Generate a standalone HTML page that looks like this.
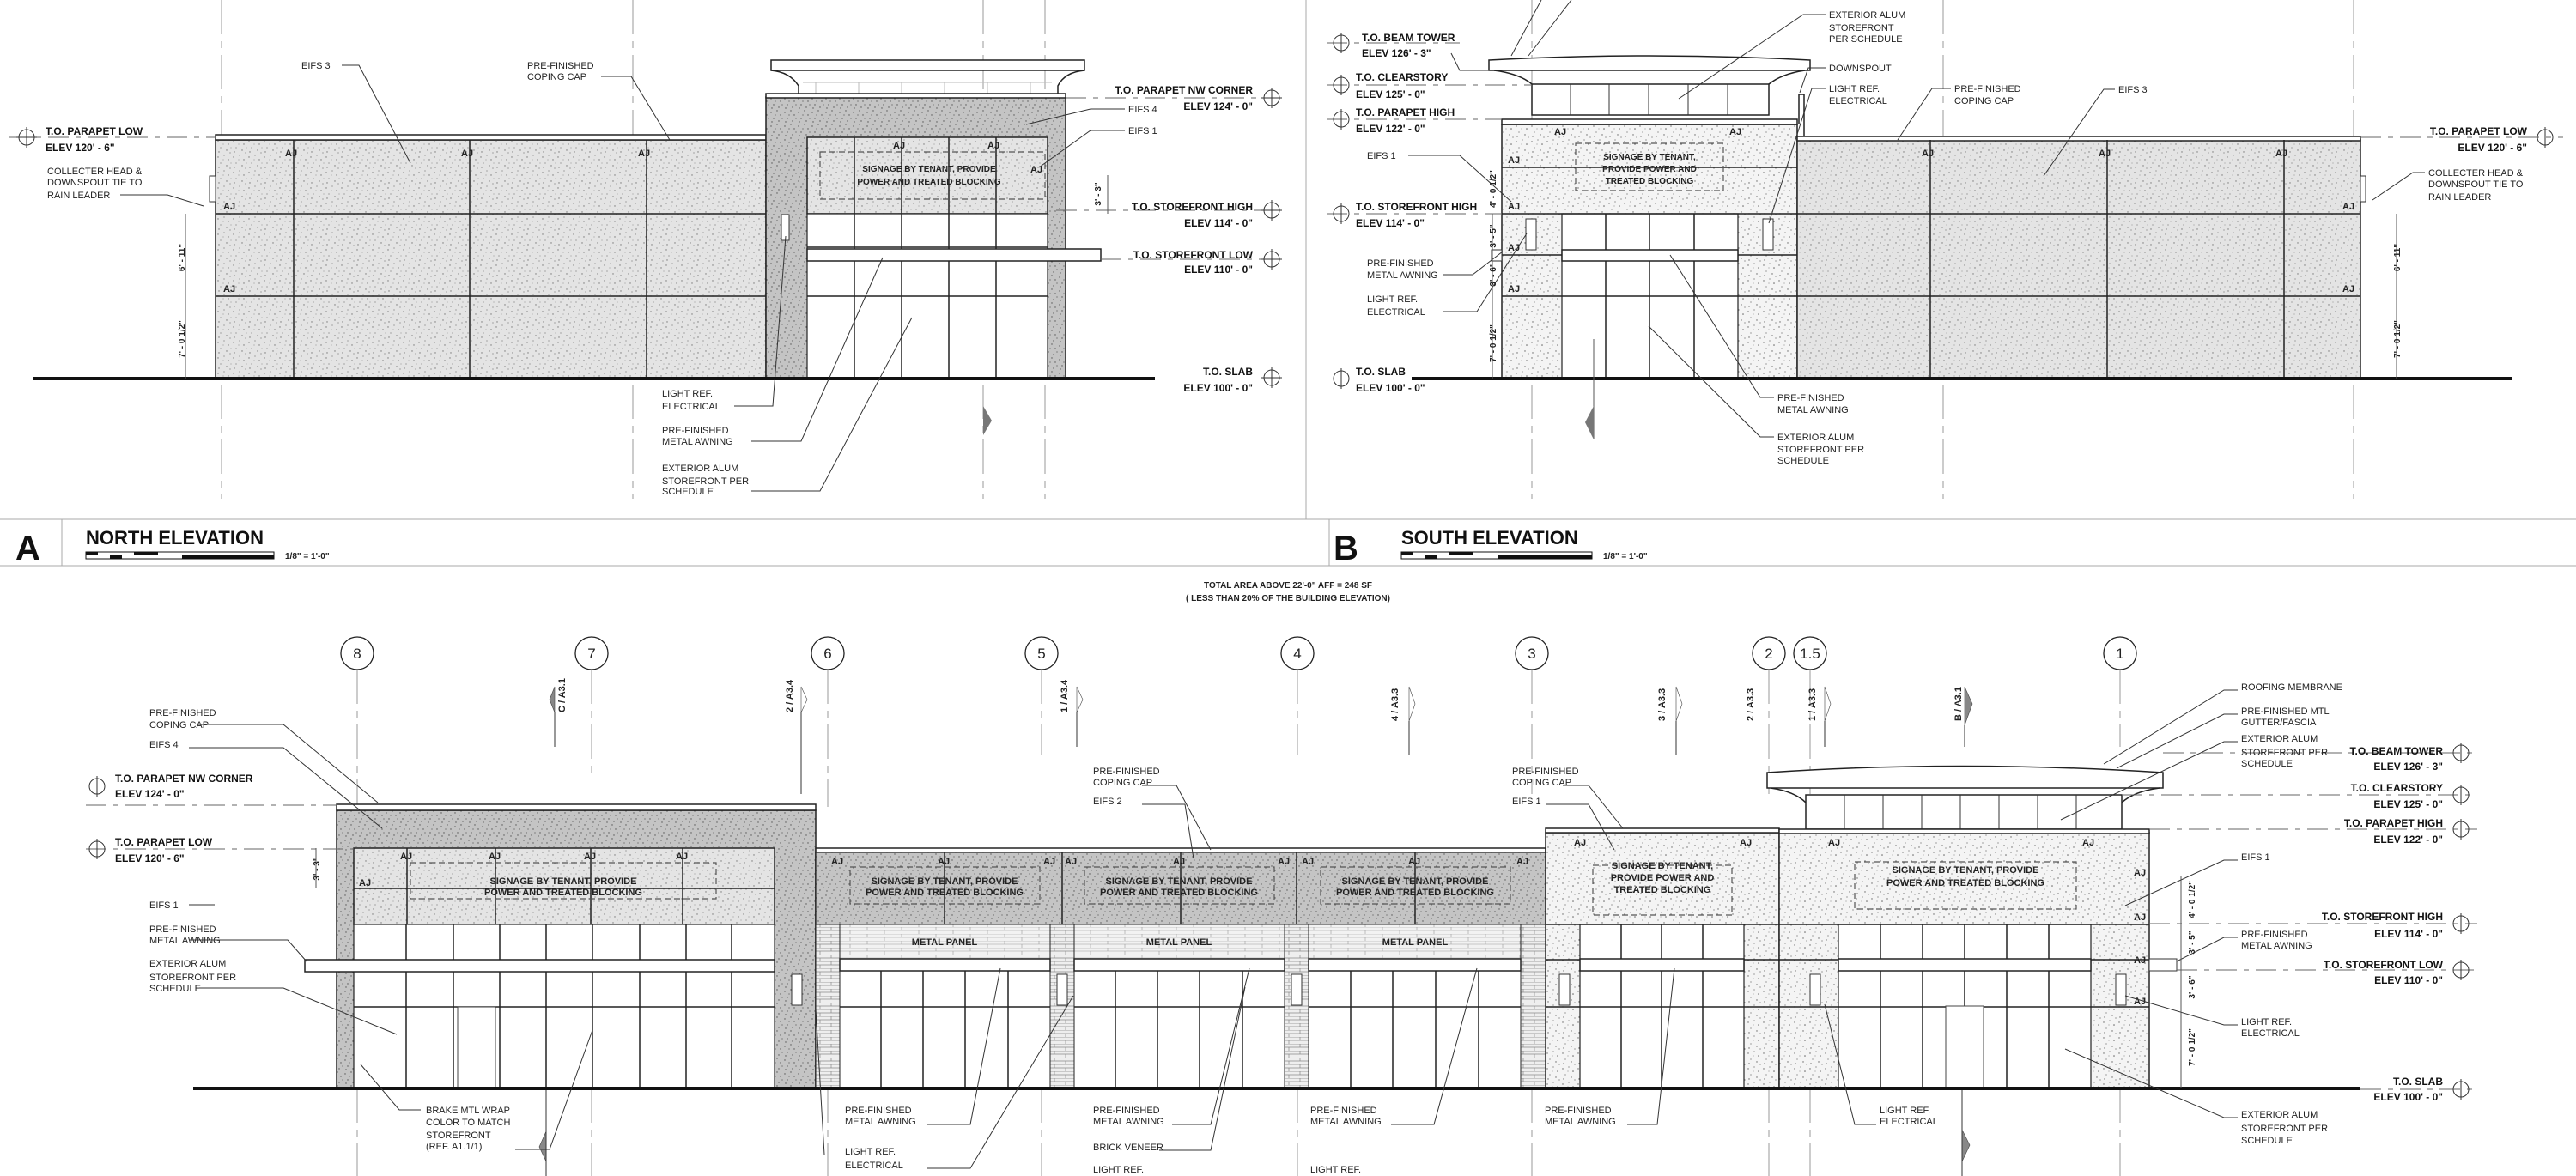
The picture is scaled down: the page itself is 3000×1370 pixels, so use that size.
<!DOCTYPE html>
<html><head><meta charset="utf-8"><style>
html,body{margin:0;padding:0;background:#fff;}
svg{display:block;}
text{font-family:"Liberation Sans Narrow","Liberation Sans",sans-serif;font-size:11px;fill:#222;}
.b{font-weight:bold;font-size:12px;fill:#111;}
.h{font-weight:bold;font-size:22px;fill:#111;}
.big{font-weight:bold;font-size:40px;fill:#111;}
.s{font-size:10px;font-weight:bold;}
.c{text-anchor:middle;}
.r{text-anchor:end;}
.g{stroke:#999;stroke-width:1;stroke-dasharray:40 8 8 8;fill:none;}
.lv{stroke:#666;stroke-width:1;stroke-dasharray:24 8 6 8;fill:none;}
.ld{stroke:#333;stroke-width:1;fill:none;}
.k{stroke:#222;stroke-width:1.5;fill:none;}
.w{fill:#fff;stroke:#222;stroke-width:1.5;}
.m{fill:#fff;stroke:#333;stroke-width:1;}
.sg{fill:none;stroke:#555;stroke-width:1.2;stroke-dasharray:7 4;}
</style></head><body>
<svg width="3000" height="1370" viewBox="0 0 3000 1370" xmlns="http://www.w3.org/2000/svg">
<defs>
<pattern id="st" width="18" height="18" patternUnits="userSpaceOnUse">
<rect width="18" height="18" fill="#e4e4e4"/>
<g fill="#777"><circle cx="2" cy="3" r=".7"/><circle cx="9" cy="1" r=".6"/><circle cx="14" cy="6" r=".7"/><circle cx="5" cy="10" r=".6"/><circle cx="12" cy="13" r=".7"/><circle cx="16" cy="16" r=".6"/><circle cx="3" cy="15" r=".7"/><circle cx="8" cy="6" r=".5"/><circle cx="17" cy="10" r=".5"/></g>
</pattern>
<pattern id="sd" width="16" height="16" patternUnits="userSpaceOnUse">
<rect width="16" height="16" fill="#c4c4c4"/>
<g fill="#555"><circle cx="2" cy="3" r=".7"/><circle cx="9" cy="1" r=".7"/><circle cx="13" cy="6" r=".7"/><circle cx="5" cy="10" r=".7"/><circle cx="11" cy="13" r=".7"/><circle cx="3" cy="14" r=".7"/><circle cx="7" cy="6" r=".6"/><circle cx="15" cy="10" r=".6"/></g>
</pattern>
<pattern id="sw" width="18" height="18" patternUnits="userSpaceOnUse">
<rect width="18" height="18" fill="#f4f4f4"/>
<g fill="#666"><circle cx="2" cy="3" r=".7"/><circle cx="9" cy="1" r=".6"/><circle cx="14" cy="6" r=".8"/><circle cx="5" cy="10" r=".6"/><circle cx="12" cy="13" r=".7"/><circle cx="3" cy="15" r=".7"/><circle cx="8" cy="6" r=".5"/><circle cx="16" cy="16" r=".6"/></g>
</pattern>
<pattern id="br" width="26" height="8" patternUnits="userSpaceOnUse">
<rect width="26" height="8" fill="#eee"/><path d="M0 0H26M0 4H26M6 0V4M19 4V8" stroke="#888" stroke-width=".7"/>
</pattern>
<pattern id="mp" width="40" height="8" patternUnits="userSpaceOnUse">
<rect width="40" height="8" fill="#f2f2f2"/><path d="M0 0H40M0 4H40M10 0V4M30 4V8" stroke="#999" stroke-width=".6"/>
</pattern>
</defs>

<!-- ================= NORTH ELEVATION ================= -->
<g>
<path class="g" d="M258 0V581M737 0V581M1145 0V581M1217 0V581"/>
<line x1="1521" y1="0" x2="1521" y2="605" stroke="#aaa"/>
<!-- roof tower behind -->
<rect x="898" y="70" width="365" height="12" class="w"/>
<path d="M898 82 Q920 84 930 100 L930 111 M1263 82 Q1240 84 1232 100 L1232 111" class="k"/>
<path d="M935 96H1225M950 96V111M1000 96V111M1050 96V111M1100 96V111M1150 96V111M1200 96V111" stroke="#bbb" fill="none"/>
<!-- low block -->
<rect x="251" y="163" width="641" height="278" fill="url(#st)" stroke="#222" stroke-width="1.5"/>
<rect x="251" y="157" width="641" height="6" class="w"/>
<path class="k" d="M251 249H892M251 345H892M342 163V441M547 163V441M753 163V441"/>
<rect x="244" y="205" width="7" height="30" class="m"/>
<!-- tower -->
<rect x="892" y="113" width="349" height="328" fill="url(#sd)" stroke="#222" stroke-width="1.5"/>
<rect x="892" y="109" width="349" height="5" class="w"/>
<rect x="940" y="160" width="280" height="89" fill="url(#st)" stroke="#222" stroke-width="1.5"/>
<rect x="940" y="249" width="280" height="192" fill="#fff" stroke="#222" stroke-width="1.2"/>
<path class="k" d="M995 160V441M1050 160V441M1105 160V441M1160 160V441M940 288H1220M940 345H1220"/>
<rect x="940" y="290" width="342" height="14" class="w"/>
<rect x="955" y="177" width="262" height="55" class="sg"/>
<rect x="910" y="250" width="9" height="30" class="m"/>
<line x1="38" y1="441" x2="1345" y2="441" stroke="#111" stroke-width="4"/>
<!-- level lines -->
<path class="lv" d="M10 160H251M1241 114H1481M1230 245H1481M1282 302H1481"/>
<g fill="none" stroke="#333"><circle cx="31" cy="160" r="9"/><circle cx="1481" cy="114" r="9"/><circle cx="1481" cy="245" r="9"/><circle cx="1481" cy="302" r="9"/><circle cx="1481" cy="440" r="9"/><path d="M31 148V172M19 160H43M1481 102V126M1469 114H1493M1481 233V257M1469 245H1493M1481 290V314M1469 302H1493M1481 428V452M1469 440H1493"/></g>
<text x="53" y="157" class="b">T.O. PARAPET LOW</text><text x="53" y="176" class="b">ELEV 120' - 6"</text>
<text x="1459" y="109" class="b r">T.O. PARAPET NW CORNER</text><text x="1459" y="128" class="b r">ELEV 124' - 0"</text>
<text x="1459" y="245" class="b r">T.O. STOREFRONT HIGH</text><text x="1459" y="264" class="b r">ELEV 114' - 0"</text>
<text x="1459" y="301" class="b r">T.O. STOREFRONT LOW</text><text x="1459" y="318" class="b r">ELEV 110' - 0"</text>
<text x="1459" y="437" class="b r">T.O. SLAB</text><text x="1459" y="456" class="b r">ELEV 100' - 0"</text>
<text x="351" y="80">EIFS 3</text>
<text x="614" y="80">PRE-FINISHED</text><text x="614" y="93">COPING CAP</text>
<text x="1314" y="131">EIFS 4</text><text x="1314" y="156">EIFS 1</text>
<text x="55" y="203">COLLECTER HEAD &amp;</text><text x="55" y="216">DOWNSPOUT TIE TO</text><text x="55" y="231">RAIN LEADER</text>
<text x="771" y="462">LIGHT REF.</text><text x="771" y="477">ELECTRICAL</text>
<text x="771" y="505">PRE-FINISHED</text><text x="771" y="518">METAL AWNING</text>
<text x="771" y="549">EXTERIOR ALUM</text><text x="771" y="564">STOREFRONT PER</text><text x="771" y="576">SCHEDULE</text>
<text x="1082" y="200" class="s c">SIGNAGE BY TENANT, PROVIDE</text><text x="1082" y="215" class="s c">POWER AND TREATED BLOCKING</text>
<g class="s"><text x="332" y="182">AJ</text><text x="537" y="182">AJ</text><text x="743" y="182">AJ</text><text x="260" y="244">AJ</text><text x="260" y="340">AJ</text><text x="1040" y="173">AJ</text><text x="1150" y="173">AJ</text><text x="1200" y="201">AJ</text></g>
<g class="ld"><path d="M398 76H418L478 190M700 89H735L780 163M1310 127H1270L1195 145M1310 152H1270L1210 195M140 227H195L237 240M855 473H900L915 275M875 514H933L1028 300M875 572H955L1062 370"/><path d="M216 249V441M1290 204V249" stroke="#555"/></g>
<text transform="translate(215,300) rotate(-90)" class="s c">6' - 11"</text>
<text transform="translate(215,395) rotate(-90)" class="s c">7' - 0 1/2"</text>
<text transform="translate(1282,226) rotate(-90)" class="s c">3' - 3"</text>
<path d="M1145 473L1155 490L1145 507Z" fill="#777"/>
<!-- title A -->
<path d="M0 605H1521M0 659H1521M72 605V659" stroke="#aaa"/>
<text x="18" y="652" class="big">A</text>
<text x="100" y="634" class="h">NORTH ELEVATION</text>
<rect x="100" y="643" width="219" height="8" fill="#fff" stroke="#111"/>
<path d="M100 643h14v4h-14zM128 647h14v4h-14zM156 643h28v4h-28zM212 647h107v4h-107z" fill="#111"/>
<text x="332" y="651" class="s">1/8" = 1'-0"</text>
</g>

<!-- ================= SOUTH ELEVATION ================= -->
<g>
<path class="g" d="M1784 0V581M2263 0V581M2741 0V581"/>
<!-- tower cap -->
<path d="M1734 70 Q1921 60 2108 70 V82 H1734Z" class="w"/>
<path d="M1740 82 Q1770 86 1784 98 M2102 82 Q2075 86 2060 98" class="k"/>
<rect x="1784" y="98" width="276" height="36" class="w"/>
<path class="ld" d="M1829 98V134M1874 98V134M1920 98V134M1966 98V134M2012 98V134"/>
<rect x="1749" y="145" width="344" height="296" fill="url(#sw)" stroke="#222" stroke-width="1.5"/>
<rect x="1749" y="139" width="344" height="6" class="w"/>
<rect x="1819" y="249" width="205" height="192" fill="#fff" stroke="#222" stroke-width="1.2"/>
<path class="k" d="M1749 195H2093M1749 249H2093M1749 345H2093M1749 297H2093M1870 249V441M1921 249V441M1973 249V441"/>
<rect x="1819" y="291" width="205" height="13" class="w"/>
<rect x="1737" y="291" width="12" height="13" class="m"/>
<rect x="1835" y="167" width="172" height="55" class="sg"/>
<rect x="1777" y="255" width="12" height="36" class="m"/><rect x="2053" y="255" width="12" height="36" class="m"/>
<path d="M2095 145V110H2101V160" class="k"/>
<!-- low block -->
<rect x="2093" y="163" width="656" height="278" fill="url(#st)" stroke="#222" stroke-width="1.5"/>
<rect x="2093" y="159" width="656" height="5" class="w"/>
<path class="k" d="M2093 249H2749M2093 345H2749M2248 163V441M2454 163V441M2660 163V441"/>
<rect x="2749" y="205" width="6" height="30" class="m"/>
<line x1="1644" y1="441" x2="2926" y2="441" stroke="#111" stroke-width="4"/>
<path class="lv" d="M1545 50H1700M1545 99H1784M1545 139H1749M1545 249H1749M2749 160H2985"/>
<g fill="none" stroke="#333"><circle cx="1562" cy="50" r="9"/><circle cx="1562" cy="99" r="9"/><circle cx="1562" cy="139" r="9"/><circle cx="1562" cy="249" r="9"/><circle cx="1562" cy="441" r="9"/><circle cx="2964" cy="160" r="9"/><path d="M1562 38V62M1562 87V111M1562 127V151M1562 237V261M1562 429V453M2964 148V172"/></g>
<path class="ld" d="M1690 62L1700 82H1734"/>
<text x="1586" y="48" class="b">T.O. BEAM TOWER</text><text x="1586" y="66" class="b">ELEV 126' - 3"</text>
<text x="1579" y="94" class="b">T.O. CLEARSTORY</text><text x="1579" y="114" class="b">ELEV 125' - 0"</text>
<text x="1579" y="135" class="b">T.O. PARAPET HIGH</text><text x="1579" y="154" class="b">ELEV 122' - 0"</text>
<text x="1579" y="245" class="b">T.O. STOREFRONT HIGH</text><text x="1579" y="264" class="b">ELEV 114' - 0"</text>
<text x="1579" y="437" class="b">T.O. SLAB</text><text x="1579" y="456" class="b">ELEV 100' - 0"</text>
<text x="2943" y="157" class="b r">T.O. PARAPET LOW</text><text x="2943" y="176" class="b r">ELEV 120' - 6"</text>
<text x="2828" y="205">COLLECTER HEAD &amp;</text><text x="2828" y="218">DOWNSPOUT TIE TO</text><text x="2828" y="233">RAIN LEADER</text>
<text x="2130" y="21">EXTERIOR ALUM</text><text x="2130" y="36">STOREFRONT</text><text x="2130" y="49">PER SCHEDULE</text>
<text x="2130" y="83">DOWNSPOUT</text>
<text x="2130" y="107">LIGHT REF.</text><text x="2130" y="121">ELECTRICAL</text>
<text x="2276" y="107">PRE-FINISHED</text><text x="2276" y="121">COPING CAP</text>
<text x="2467" y="108">EIFS 3</text>
<text x="1592" y="185">EIFS 1</text>
<text x="1592" y="310">PRE-FINISHED</text><text x="1592" y="324">METAL AWNING</text>
<text x="1592" y="352">LIGHT REF.</text><text x="1592" y="367">ELECTRICAL</text>
<text x="2070" y="467">PRE-FINISHED</text><text x="2070" y="481">METAL AWNING</text>
<text x="2070" y="513">EXTERIOR ALUM</text><text x="2070" y="527">STOREFRONT PER</text><text x="2070" y="540">SCHEDULE</text>
<text x="1921" y="186" class="s c">SIGNAGE BY TENANT,</text><text x="1921" y="200" class="s c">PROVIDE POWER AND</text><text x="1921" y="214" class="s c">TREATED BLOCKING</text>
<g class="s"><text x="1810" y="157">AJ</text><text x="2014" y="157">AJ</text><text x="1756" y="190">AJ</text><text x="1756" y="244">AJ</text><text x="1756" y="292">AJ</text><text x="1756" y="340">AJ</text><text x="2238" y="182">AJ</text><text x="2444" y="182">AJ</text><text x="2650" y="182">AJ</text><text x="2728" y="244">AJ</text><text x="2728" y="340">AJ</text></g>
<g class="ld"><path d="M2126 17H2100L1955 115M2126 79H2106L2096 108M2126 103H2110L2060 260M2272 103H2250L2210 163M2463 104H2450L2380 205M2824 201H2810L2763 233M1640 181H1700L1760 235M1680 320H1715L1750 293M1680 363H1720L1778 272M2066 463H2050L1945 297M2066 509H2050L1920 380"/><path d="M1795 0L1760 65M1830 0L1780 65" /><path d="M1738 249V441M2791 249V441" stroke="#555"/></g>
<text transform="translate(1742,220) rotate(-90)" class="s c">4' - 0 1/2"</text>
<text transform="translate(1742,275) rotate(-90)" class="s c">3' - 5"</text>
<text transform="translate(1742,320) rotate(-90)" class="s c">3' - 6"</text>
<text transform="translate(1742,400) rotate(-90)" class="s c">7' - 0 1/2"</text>
<text transform="translate(2795,300) rotate(-90)" class="s c">6' - 11"</text>
<text transform="translate(2795,395) rotate(-90)" class="s c">7' - 0 1/2"</text>
<line x1="1856" y1="395" x2="1856" y2="512" stroke="#555"/>
<path d="M1856 473L1846 492L1856 512Z" fill="#777"/>
<path d="M1521 605H3000M1521 659H3000M1548 605V659" stroke="#aaa"/>
<text x="1553" y="652" class="big">B</text>
<text x="1632" y="634" class="h">SOUTH ELEVATION</text>
<rect x="1632" y="643" width="222" height="8" fill="#fff" stroke="#111"/>
<path d="M1632 643h14v4h-14zM1660 647h14v4h-14zM1688 643h28v4h-28zM1744 647h110v4h-110z" fill="#111"/>
<text x="1867" y="651" class="s">1/8" = 1'-0"</text>
</g>

<!-- ================= LONG ELEVATION ================= -->
<g>
<text x="1500" y="685" class="s c">TOTAL AREA ABOVE 22'-0" AFF = 248 SF</text>
<text x="1500" y="700" class="s c">( LESS THAN 20% OF THE  BUILDING ELEVATION)</text>
<!-- grid bubbles -->
<g fill="#fff" stroke="#222" stroke-width="1.3"><circle cx="416" cy="761" r="19"/><circle cx="689" cy="761" r="19"/><circle cx="964" cy="761" r="19"/><circle cx="1213" cy="761" r="19"/><circle cx="1511" cy="761" r="19"/><circle cx="1784" cy="761" r="19"/><circle cx="2060" cy="761" r="19"/><circle cx="2108" cy="761" r="19"/><circle cx="2469" cy="761" r="19"/></g>
<g font-size="17" class="c"><text x="416" y="767" style="font-size:17px">8</text><text x="689" y="767" style="font-size:17px">7</text><text x="964" y="767" style="font-size:17px">6</text><text x="1213" y="767" style="font-size:17px">5</text><text x="1511" y="767" style="font-size:17px">4</text><text x="1784" y="767" style="font-size:17px">3</text><text x="2060" y="767" style="font-size:17px">2</text><text x="2108" y="767" style="font-size:17px">1.5</text><text x="2469" y="767" style="font-size:17px">1</text></g>
<path class="g" d="M416 780V940M689 780V900M964 780V940M1213 780V880M1511 780V880M1784 780V925M2060 780V925M2108 780V925M2469 780V870M416 1268V1370M689 1268V1370M964 1268V1370M1213 1268V1370M1511 1268V1370M1784 1268V1370M2060 1268V1370M2108 1268V1370M2469 1268V1370"/>
<!-- section markers -->
<g class="s"><text transform="translate(658,830) rotate(-90)">C / A3.1</text><text transform="translate(923,830) rotate(-90)">2 / A3.4</text><text transform="translate(1243,830) rotate(-90)">1 / A3.4</text><text transform="translate(1628,840) rotate(-90)">4 / A3.3</text><text transform="translate(1939,840) rotate(-90)">3 / A3.3</text><text transform="translate(2042,840) rotate(-90)">2 / A3.3</text><text transform="translate(2114,840) rotate(-90)">1 / A3.3</text><text transform="translate(2284,840) rotate(-90)">B / A3.1</text></g>
<g fill="#888" stroke="#444" stroke-width=".6"><path d="M646 800L640 815L646 830Z"/><path d="M933 800L940 815L933 830Z" fill="#fff"/><path d="M1254 800L1261 815L1254 830Z" fill="#fff"/><path d="M1641 800L1648 820L1641 840Z" fill="#fff"/><path d="M1952 800L1959 820L1952 840Z" fill="#fff"/><path d="M2125 800L2132 820L2125 840Z" fill="#fff"/><path d="M2288 800L2297 820L2288 845Z"/><path d="M636 1318L628 1336L636 1353Z"/><path d="M2285 1316L2294 1334L2285 1353Z"/></g>
<path class="ld" d="M646 830V870M933 830V925M1254 830V870M1641 840V880M1952 840V880M2125 840V870M2288 845V870M636 1270V1370M2285 1270V1370" stroke="#777"/>
<!-- block 8-6 -->
<rect x="392" y="944" width="558" height="324" fill="url(#sd)" stroke="#222" stroke-width="1.5"/>
<rect x="392" y="937" width="558" height="7" class="w"/>
<rect x="412" y="988" width="490" height="89" fill="url(#st)" stroke="#222" stroke-width="1.5"/>
<rect x="412" y="1077" width="490" height="191" fill="#fff" stroke="#222" stroke-width="1.2"/>
<path class="k" d="M412 1035H902M473 1077V1268M528 1077V1268M582 1077V1268M636 1077V1268M690 1077V1268M745 1077V1268M799 1077V1268M852 1077V1268M412 1173H902M474 988V1077M577 988V1077M688 988V1077M795 988V1077"/>
<rect x="355" y="1118" width="547" height="14" class="w"/>
<rect x="533" y="1173" width="44" height="95" fill="#fff" stroke="#444"/>
<rect x="478" y="1005" width="356" height="42" class="sg"/>
<rect x="922" y="1135" width="12" height="36" class="m"/>
<!-- block 6-3 (metal panel) -->
<rect x="950" y="993" width="850" height="275" fill="#fff" stroke="#222" stroke-width="1.5"/>
<rect x="950" y="988" width="850" height="5" class="w"/>
<rect x="950" y="993" width="850" height="84" fill="url(#sd)" stroke="#222" stroke-width="1.2"/>
<rect x="950" y="1077" width="850" height="54" fill="url(#mp)" stroke="#222" stroke-width="1"/>
<g fill="url(#br)" stroke="#222" stroke-width="1"><rect x="950" y="1077" width="28" height="191"/><rect x="1223" y="1077" width="28" height="191"/><rect x="1496" y="1077" width="28" height="191"/><rect x="1771" y="1077" width="29" height="191"/></g>
<g class="w"><rect x="978" y="1117" width="245" height="14"/><rect x="1251" y="1117" width="245" height="14"/><rect x="1524" y="1117" width="247" height="14"/></g>
<path class="k" d="M978 1173H1223M1251 1173H1496M1524 1173H1771M1026 1131V1268M1075 1131V1268M1124 1131V1268M1174 1131V1268M1299 1131V1268M1348 1131V1268M1397 1131V1268M1447 1131V1268M1573 1131V1268M1622 1131V1268M1672 1131V1268M1722 1131V1268M1100 993V1077M1375 993V1077M1648 993V1077M1237 993V1077M1510 993V1077"/>
<g class="sg"><rect x="990" y="1010" width="221" height="43"/><rect x="1263" y="1010" width="221" height="43"/><rect x="1538" y="1010" width="221" height="43"/></g>
<g fill="#fff" stroke="#333"><rect x="1231" y="1135" width="12" height="36"/><rect x="1504" y="1135" width="12" height="36"/></g>
<!-- block 3-2 -->
<rect x="1800" y="970" width="272" height="298" fill="url(#sw)" stroke="#222" stroke-width="1.5"/>
<rect x="1800" y="965" width="272" height="5" class="w"/>
<rect x="1840" y="1077" width="191" height="191" fill="#fff" stroke="#222" stroke-width="1.2"/>
<path class="k" d="M1800 1077H2072M1800 1118H2072M1800 1173H2072M1888 1077V1268M1935 1077V1268M1983 1077V1268"/>
<rect x="1840" y="1117" width="191" height="14" class="w"/>
<rect x="1855" y="1008" width="162" height="58" class="sg"/>
<rect x="1816" y="1135" width="12" height="36" class="m"/>
<!-- tower 2-1 -->
<path d="M2058 900 Q2280 885 2519 900 V918 H2058Z" class="w"/>
<path d="M2062 918 Q2090 922 2103 935 M2515 918 Q2485 922 2471 935" class="k"/>
<rect x="2103" y="926" width="368" height="40" class="w"/>
<path class="ld" d="M2148 926V966M2193 926V966M2238 926V966M2283 926V966M2328 926V966M2373 926V966M2418 926V966"/>
<rect x="2072" y="970" width="431" height="298" fill="url(#sw)" stroke="#222" stroke-width="1.5"/>
<rect x="2072" y="966" width="431" height="5" class="w"/>
<rect x="2141" y="1077" width="294" height="191" fill="#fff" stroke="#222" stroke-width="1.2"/>
<path class="k" d="M2072 1077H2503M2072 1173H2503M2072 1118H2503M2190 1077V1268M2239 1077V1268M2288 1077V1268M2337 1077V1268M2386 1077V1268"/>
<rect x="2141" y="1117" width="294" height="14" class="w"/><rect x="2503" y="1117" width="32" height="14" class="m"/>
<rect x="2266" y="1172" width="44" height="96" fill="#fff" stroke="#444"/>
<rect x="2160" y="1004" width="258" height="55" class="sg"/>
<g fill="#fff" stroke="#333"><rect x="2108" y="1135" width="12" height="36"/><rect x="2464" y="1135" width="12" height="36"/></g>
<line x1="225" y1="1268" x2="2749" y2="1268" stroke="#111" stroke-width="4"/>
<!-- levels -->
<path class="lv" d="M100 938H392M100 989H412M2519 877H2885M2471 926H2885M2503 966H2885M2503 1076H2885M2535 1130H2885M2749 1269H2885"/>
<g fill="none" stroke="#333"><circle cx="113" cy="916" r="9"/><circle cx="113" cy="989" r="9"/><circle cx="2866" cy="877" r="9"/><circle cx="2866" cy="926" r="9"/><circle cx="2866" cy="966" r="9"/><circle cx="2866" cy="1076" r="9"/><circle cx="2866" cy="1130" r="9"/><circle cx="2866" cy="1269" r="9"/><path d="M113 904V928M113 977V1001M2866 865V889M2866 914V938M2866 954V978M2866 1064V1088M2866 1118V1142M2866 1257V1281"/></g>
<text x="134" y="911" class="b">T.O. PARAPET NW CORNER</text><text x="134" y="929" class="b">ELEV 124' - 0"</text>
<text x="134" y="985" class="b">T.O. PARAPET LOW</text><text x="134" y="1004" class="b">ELEV 120' - 6"</text>
<text x="2845" y="879" class="b r">T.O. BEAM TOWER</text><text x="2845" y="897" class="b r">ELEV 126' - 3"</text>
<text x="2845" y="922" class="b r">T.O. CLEARSTORY</text><text x="2845" y="941" class="b r">ELEV 125' - 0"</text>
<text x="2845" y="963" class="b r">T.O. PARAPET HIGH</text><text x="2845" y="982" class="b r">ELEV 122' - 0"</text>
<text x="2845" y="1072" class="b r">T.O. STOREFRONT HIGH</text><text x="2845" y="1092" class="b r">ELEV 114' - 0"</text>
<text x="2845" y="1128" class="b r">T.O. STOREFRONT LOW</text><text x="2845" y="1146" class="b r">ELEV 110' - 0"</text>
<text x="2845" y="1264" class="b r">T.O. SLAB</text><text x="2845" y="1282" class="b r">ELEV 100' - 0"</text>
<!-- labels -->
<text x="174" y="834">PRE-FINISHED</text><text x="174" y="848">COPING CAP</text>
<text x="174" y="871">EIFS 4</text><text x="174" y="1058">EIFS 1</text>
<text x="174" y="1086">PRE-FINISHED</text><text x="174" y="1099">METAL AWNING</text>
<text x="174" y="1126">EXTERIOR ALUM</text><text x="174" y="1142">STOREFRONT PER</text><text x="174" y="1155">SCHEDULE</text>
<text x="496" y="1297">BRAKE MTL WRAP</text><text x="496" y="1311">COLOR TO MATCH</text><text x="496" y="1326">STOREFRONT</text><text x="496" y="1339">(REF. A1.1/1)</text>
<text x="984" y="1297">PRE-FINISHED</text><text x="984" y="1310">METAL AWNING</text>
<text x="984" y="1345">LIGHT REF.</text><text x="984" y="1361">ELECTRICAL</text>
<text x="1273" y="1297">PRE-FINISHED</text><text x="1273" y="1310">METAL AWNING</text>
<text x="1273" y="1340">BRICK VENEER</text><text x="1273" y="1366">LIGHT REF.</text>
<text x="1526" y="1297">PRE-FINISHED</text><text x="1526" y="1310">METAL AWNING</text><text x="1526" y="1366">LIGHT REF.</text>
<text x="1799" y="1297">PRE-FINISHED</text><text x="1799" y="1310">METAL AWNING</text>
<text x="2189" y="1297">LIGHT REF.</text><text x="2189" y="1310">ELECTRICAL</text>
<text x="1273" y="902">PRE-FINISHED</text><text x="1273" y="915">COPING CAP</text><text x="1273" y="937">EIFS 2</text>
<text x="1761" y="902">PRE-FINISHED</text><text x="1761" y="915">COPING CAP</text><text x="1761" y="937">EIFS 1</text>
<text x="2610" y="804">ROOFING MEMBRANE</text>
<text x="2610" y="832">PRE-FINISHED MTL</text><text x="2610" y="845">GUTTER/FASCIA</text>
<text x="2610" y="864">EXTERIOR ALUM</text><text x="2610" y="880">STOREFRONT PER</text><text x="2610" y="893">SCHEDULE</text>
<text x="2610" y="1002">EIFS 1</text>
<text x="2610" y="1092">PRE-FINISHED</text><text x="2610" y="1105">METAL AWNING</text>
<text x="2610" y="1194">LIGHT REF.</text><text x="2610" y="1207">ELECTRICAL</text>
<text x="2610" y="1302">EXTERIOR ALUM</text><text x="2610" y="1318">STOREFRONT PER</text><text x="2610" y="1332">SCHEDULE</text>
<g class="s c"><text x="656" y="1030">SIGNAGE BY TENANT, PROVIDE</text><text x="656" y="1043">POWER AND TREATED BLOCKING</text>
<text x="1100" y="1030">SIGNAGE BY TENANT, PROVIDE</text><text x="1100" y="1043">POWER AND TREATED BLOCKING</text>
<text x="1373" y="1030">SIGNAGE BY TENANT, PROVIDE</text><text x="1373" y="1043">POWER AND TREATED BLOCKING</text>
<text x="1648" y="1030">SIGNAGE BY TENANT, PROVIDE</text><text x="1648" y="1043">POWER AND TREATED BLOCKING</text>
<text x="1936" y="1012">SIGNAGE BY TENANT,</text><text x="1936" y="1026">PROVIDE POWER AND</text><text x="1936" y="1040">TREATED BLOCKING</text>
<text x="2289" y="1017">SIGNAGE BY TENANT, PROVIDE</text><text x="2289" y="1032">POWER AND TREATED BLOCKING</text>
<text x="1100" y="1101">METAL PANEL</text><text x="1373" y="1101">METAL PANEL</text><text x="1648" y="1101">METAL PANEL</text></g>
<g class="s"><text x="466" y="1001">AJ</text><text x="569" y="1001">AJ</text><text x="680" y="1001">AJ</text><text x="787" y="1001">AJ</text><text x="418" y="1032">AJ</text><text x="968" y="1007">AJ</text><text x="1092" y="1007">AJ</text><text x="1215" y="1007">AJ</text><text x="1240" y="1007">AJ</text><text x="1366" y="1007">AJ</text><text x="1488" y="1007">AJ</text><text x="1516" y="1007">AJ</text><text x="1640" y="1007">AJ</text><text x="1766" y="1007">AJ</text><text x="1833" y="985">AJ</text><text x="2026" y="985">AJ</text><text x="2129" y="985">AJ</text><text x="2425" y="985">AJ</text><text x="2485" y="1020">AJ</text><text x="2485" y="1072">AJ</text><text x="2485" y="1122">AJ</text><text x="2485" y="1170">AJ</text></g>
<g class="ld"><path d="M230 844H330L440 935M220 871H330L445 965M220 1054H250M220 1095H335L357 1120M232 1151H330L462 1205M490 1293H465L420 1240M600 1339H640L690 1200M1080 1310H1130L1165 1128M1080 1361H1130L1250 1160M960 1345L950 1175M1365 1310H1410L1455 1128M1350 1340H1410L1450 1150M1620 1310H1670L1720 1128M1895 1310H1930L1950 1128M2185 1310H2160L2125 1170M2606 804H2590L2450 890M2606 832H2590L2465 895M2606 864H2590L2400 955M2606 1002H2590L2475 1055M2606 1092H2590L2535 1120M2606 1194H2590L2475 1160M2606 1302H2590L2405 1222M1330 915H1370L1410 990M1330 937H1380L1390 1000M1820 915H1850L1890 965M1800 937H1850L1880 990"/><path d="M368 988V1035M2540 1020V1268" stroke="#555"/></g>
<text transform="translate(372,1012) rotate(-90)" class="s c">3' - 3"</text>
<text transform="translate(2556,1048) rotate(-90)" class="s c">4' - 0 1/2"</text>
<text transform="translate(2556,1098) rotate(-90)" class="s c">3' - 5"</text>
<text transform="translate(2556,1150) rotate(-90)" class="s c">3' - 6"</text>
<text transform="translate(2556,1220) rotate(-90)" class="s c">7' - 0 1/2"</text>
</g>
</svg>
</body></html>
